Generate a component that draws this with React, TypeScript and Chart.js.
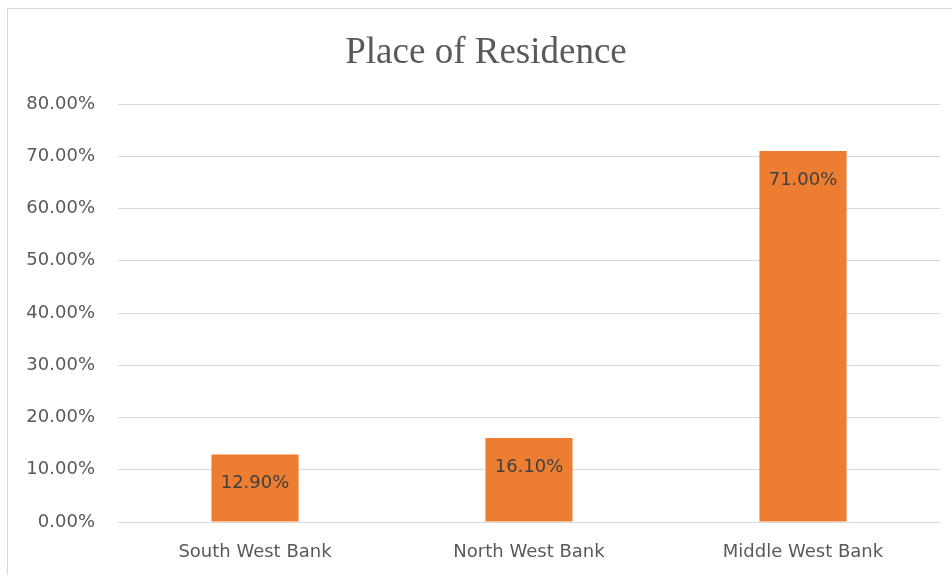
import React, { useEffect, useRef } from "react";
import { Chart, registerables } from "chart.js";

Chart.register(...registerables);

const categories = ["South West Bank", "North West Bank", "Middle West Bank"];
const values = [12.9, 16.1, 71.0];
const chartTitle = "Place of Residence";
const yMin = 0;
const yMax = 80;
const yStep = 10;

const TEXT = "#595959";
const GRID = "#d9d9d9";
const BAR = "#ed7d31";
const SANS = "'DejaVu Sans', sans-serif";

const framePlugin = {
  id: "frame",
  beforeDraw(chart: any) {
    const ctx = chart.ctx;
    ctx.save();
    ctx.fillStyle = "#ffffff";
    ctx.fillRect(0, 0, chart.width, chart.height);
    ctx.strokeStyle = "#d9d9d9";
    ctx.lineWidth = 1;
    ctx.beginPath();
    ctx.moveTo(7.5, chart.height - 2.5);
    ctx.lineTo(7.5, 8.5);
    ctx.lineTo(chart.width, 8.5);
    ctx.stroke();
    ctx.restore();
  },
  afterDraw(chart: any) {
    const ctx = chart.ctx;
    ctx.save();
    ctx.fillStyle = TEXT;
    ctx.font = "37px 'Liberation Serif', serif";
    ctx.textAlign = "center";
    ctx.textBaseline = "middle";
    ctx.fillText(chartTitle, 486, 53);
    ctx.restore();
  },
};

const labelPlugin = {
  id: "barLabels",
  afterDatasetsDraw(chart: any) {
    const ctx = chart.ctx;
    const meta = chart.getDatasetMeta(0);
    const ds = chart.data.datasets[0];
    ctx.save();
    ctx.fillStyle = "#404040";
    ctx.font = `18px ${SANS}`;
    ctx.textAlign = "center";
    ctx.textBaseline = "middle";
    meta.data.forEach((bar: any, i: number) => {
      const v = ds.data[i] as number;
      ctx.fillText(v.toFixed(2) + "%", bar.x, bar.y + 29);
    });
    ctx.restore();
  },
};

export default function App() {
  const ref = useRef<HTMLCanvasElement | null>(null);
  useEffect(() => {
    if (!ref.current) return;
    const chart = new Chart(ref.current, {
      type: "bar",
      data: {
        labels: categories,
        datasets: [
          {
            data: values,
            backgroundColor: BAR,
            borderWidth: 0,
            barPercentage: 0.318,
            categoryPercentage: 1,
          },
        ],
      },
      plugins: [framePlugin, labelPlugin],
      options: {
        animation: false,
        responsive: false,
        layout: { padding: { left: 8, right: 12, top: 104, bottom: 0 } },
        plugins: {
          legend: { display: false },
          title: { display: false },
          tooltip: { enabled: false },
        },
        scales: {
          x: {
            grid: { display: false, drawTicks: false },
            border: { display: false },
            ticks: { color: TEXT, font: { family: SANS, size: 18 }, padding: 20, maxRotation: 0 },
            afterFit: (s: any) => {
              s.height = 55;
            },
          },
          y: {
            min: yMin,
            max: yMax,
            grid: { color: GRID, drawTicks: false, lineWidth: 1 },
            border: { display: false },
            ticks: {
              stepSize: yStep,
              color: TEXT,
              font: { family: SANS, size: 18 },
              padding: 23,
              callback: (v: any) => Number(v).toFixed(2) + "%",
            },
            afterFit: (s: any) => {
              s.width = 110;
            },
          },
        },
      },
    });
    return () => chart.destroy();
  }, []);
  return (
    <div style={{ position: "fixed", left: 0, top: 0, width: 952, height: 577, background: "#fff" }}>
      <canvas ref={ref} width={952} height={577} style={{ width: 952, height: 577, display: "block" }} />
    </div>
  );
}
